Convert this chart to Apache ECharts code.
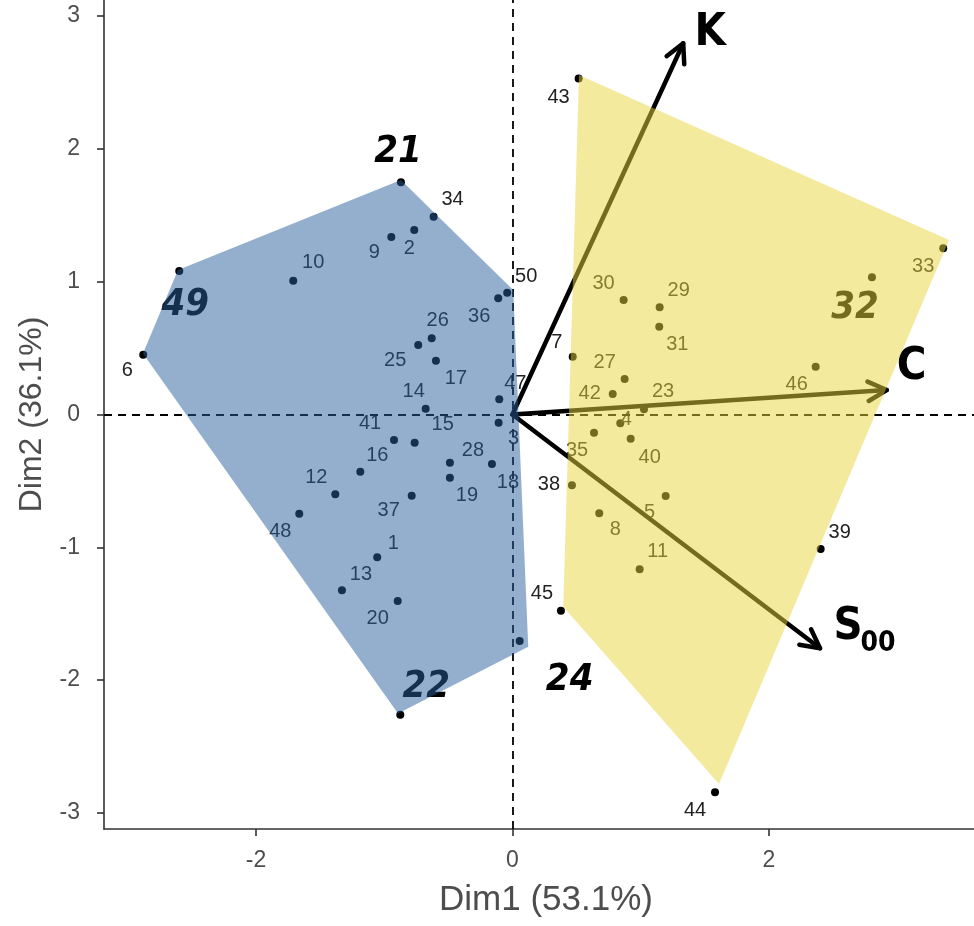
<!DOCTYPE html>
<html><head><meta charset="utf-8">
<script src="https://cdn.jsdelivr.net/npm/echarts@6/dist/echarts.min.js"></script>
<style>html,body{margin:0;padding:0;background:#fff}#c{width:974px;height:926px}</style>
</head><body><div id="c"></div>
<script>
// ---- data ----
const blueNames = ['21','34','2','9','10','49','6','50','36','26','25','17','14','47','3','41','15','16','12','48','28','19','18','37','1','13','20','24','22'];
const blueDim1 = [-0.870,-0.615,-0.766,-0.945,-1.710,-2.599,-2.880,-0.041,-0.111,-0.630,-0.735,-0.597,-0.677,-0.103,-0.108,-0.924,-0.763,-1.187,-1.382,-1.663,-0.488,-0.488,-0.160,-0.786,-1.055,-1.330,-0.895,0.056,-0.875];
const blueDim2 = [1.748,1.489,1.389,1.337,1.008,1.081,0.450,0.917,0.875,0.574,0.523,0.405,0.044,0.114,-0.062,-0.192,-0.212,-0.431,-0.601,-0.747,-0.363,-0.476,-0.373,-0.611,-1.075,-1.324,-1.404,-1.706,-2.261];

const yellowNames = ['43','33','32','30','29','31','7','46','27','42','23','4','35','40','38','5','8','11','39','45','44'];
const yellowDim1 = [0.516,3.360,2.804,0.867,1.148,1.145,0.470,2.365,0.875,0.782,1.026,0.841,0.636,0.922,0.464,1.195,0.677,0.992,2.404,0.378,1.580];
const yellowDim2 = [2.529,1.251,1.033,0.862,0.807,0.661,0.435,0.360,0.267,0.154,0.039,-0.066,-0.137,-0.182,-0.533,-0.614,-0.744,-1.166,-1.013,-1.477,-2.845];

const hullBlueX = [-0.870,0.006,0.123,-0.893,-2.882,-2.609];
const hullBlueY = [1.766,0.938,-1.748,-2.251,0.459,1.088];
const hullYellowX = [0.519,3.405,1.611,0.396];
const hullYellowY = [2.556,1.314,-2.782,-1.447];

const arrowNames = ['K','C','S'];
const arrowSubs = ['','','00'];
const arrowX = [1.332,2.919,2.399];
const arrowY = [2.795,0.184,-1.760];

const xTicks = [-2,0,2];
const yTicks = [-3,-2,-1,0,1,2,3];
const highlighted = ['21','49','22','24','32'];

// ---- layout / style (not data) ----
const labelOffsets = {
 '34':[19,-17],'2':[-5,18],'9':[-17,16],'10':[20,-18],'6':[-16,16],'50':[19,-16],'36':[-19,18],
 '26':[6,-18],'25':[-23,15],'17':[20,18],'14':[-12,-17],'47':[16,-16],'3':[15,16],'41':[-24,-17],
 '15':[28,-18],'16':[17,-16],'12':[-19,-17],'48':[-19,18],'28':[23,-12],'19':[17,18],'18':[16,18],
 '37':[-23,15],'1':[16,-14],'13':[19,-16],'20':[-20,18],
 '43':[-20,19],'33':[-20,18],'30':[-20,-17],'29':[19,-17],'31':[18,18],'7':[-16,-14],'46':[-19,18],
 '27':[-20,-17],'42':[-23,-1],'23':[19,-18],'4':[6,-4],'35':[-17,18],'40':[19,19],'38':[-23,-1],
 '5':[-16,16],'8':[16,16],'11':[18,-18],'39':[19,-17],'45':[-19,-17],'44':[-20,18],
 '21':[-3,-30],'49':[6,34],'22':[26,-28],'24':[50,39],'32':[-17,31]
};
const arrowLabelOffsets = [[27,-10],[25,-23],[28,-21]];
const arrowSubOffsets = [[0,0],[0,0],[58,-5]];
const condensed = "'DejaVu Sans Condensed','DejaVu Sans',sans-serif";
const symSize = 8;

const allNames = blueNames.concat(yellowNames);
const allX = blueDim1.concat(yellowDim1);
const allY = blueDim2.concat(yellowDim2);

const pointData = allNames.map((n,i)=>{
  const off = labelOffsets[n] || [0,-16];
  const item = {name:n, value:[allX[i], allY[i]],
    label:{position:[symSize/2+off[0], symSize/2+off[1]], align:'center', verticalAlign:'middle'}};
  if (highlighted.includes(n)) {
    Object.assign(item.label, {fontSize:38, fontWeight:'bold', fontStyle:'italic', color:'#000', fontFamily:condensed});
  }
  return item;
});

const hulls = [
  {x:hullBlueX, y:hullBlueY, color:'rgba(40,96,155,0.5)'},
  {x:hullYellowX, y:hullYellowY, color:'rgba(231,213,59,0.5)'}
];

const chart = echarts.init(document.getElementById('c'), null, {renderer:'canvas'});
const axisCol = '#333';
const tickFont = {color:'#4d4d4d', fontSize:23, fontFamily:'Liberation Sans'};

chart.setOption({
  animation:false,
  backgroundColor:'#fff',
  grid:{left:104, right:0, top:0, bottom:97, containLabel:false},
  xAxis:{
    type:'value', min:-3.186, max:3.600,
    name:'Dim1 (53.1%)', nameLocation:'middle', nameGap:54,
    nameTextStyle:{color:'#4d4d4d', fontSize:35, fontFamily:'Liberation Sans', padding:[0,0,0,14]},
    axisLine:{onZero:false, lineStyle:{color:axisCol, width:1.6}},
    axisTick:{show:true, length:7, customValues:xTicks, lineStyle:{color:axisCol, width:1.6}},
    axisLabel:Object.assign({customValues:xTicks, margin:20}, tickFont),
    splitLine:{show:false}
  },
  yAxis:{
    type:'value', min:-3.121, max:3.121,
    name:'Dim2 (36.1%)', nameLocation:'middle', nameGap:56, nameRotate:90,
    nameTextStyle:{color:'#4d4d4d', fontSize:32, fontFamily:'Liberation Sans'},
    axisLine:{onZero:false, lineStyle:{color:axisCol, width:1.6}},
    axisTick:{show:true, length:7, customValues:yTicks, lineStyle:{color:axisCol, width:1.6}},
    axisLabel:Object.assign({customValues:yTicks, margin:24}, tickFont),
    splitLine:{show:false}
  },
  series:[
    {
      type:'scatter', z:2, symbol:'circle', symbolSize:symSize,
      itemStyle:{color:'#000', opacity:1},
      label:{show:true, formatter:'{b}', color:'#222', fontSize:20,
             fontFamily:'Liberation Sans'},
      labelLayout:{hideOverlap:false},
      emphasis:{disabled:true},
      data:pointData,
      markLine:{
        silent:true, symbol:'none', animation:false,
        label:{show:false},
        lineStyle:{type:[8,6], color:'#000', width:1.8, opacity:1},
        data:[{xAxis:0},{yAxis:0}]
      }
    },
    {
      type:'custom', z:3, silent:true, clip:false,
      data:arrowX.map((x,i)=>[x, arrowY[i]]),
      renderItem:function(params, api){
        const i = params.dataIndex;
        const o = api.coord([0,0]);
        const t = api.coord([api.value(0), api.value(1)]);
        const ang = Math.atan2(t[1]-o[1], t[0]-o[0]);
        const L = 21, a = 0.48;
        const p1 = [t[0]-L*Math.cos(ang-a), t[1]-L*Math.sin(ang-a)];
        const p2 = [t[0]-L*Math.cos(ang+a), t[1]-L*Math.sin(ang+a)];
        const ls = {stroke:'#000', lineWidth:4.5, lineCap:'round', lineJoin:'round', fill:null};
        const lo = arrowLabelOffsets[i];
        const children = [
          {type:'line', shape:{x1:o[0],y1:o[1],x2:t[0],y2:t[1]}, style:ls},
          {type:'polyline', shape:{points:[p1,t,p2]}, style:ls},
          {type:'text', x:t[0]+lo[0], y:t[1]+lo[1],
           style:{text:arrowNames[i], fill:'#000', font:'bold 45px '+condensed, align:'center', verticalAlign:'middle'}}
        ];
        if (arrowSubs[i]) {
          const so = arrowSubOffsets[i];
          children.push({type:'text', x:t[0]+so[0], y:t[1]+so[1],
            style:{text:arrowSubs[i], fill:'#000', font:'bold 28px '+condensed, align:'center', verticalAlign:'middle'}});
        }
        return {type:'group', children:children};
      }
    },
    {
      type:'custom', z:5, silent:true, clip:false,
      data:hulls.map(h=>[h.x[0], h.y[0]]),
      renderItem:function(params, api){
        const h = hulls[params.dataIndex];
        const pts = h.x.map((x,k)=>api.coord([x, h.y[k]]));
        return {type:'polygon', shape:{points:pts}, style:{fill:h.color, stroke:null}};
      }
    }
  ]
});
</script>
</body></html>
